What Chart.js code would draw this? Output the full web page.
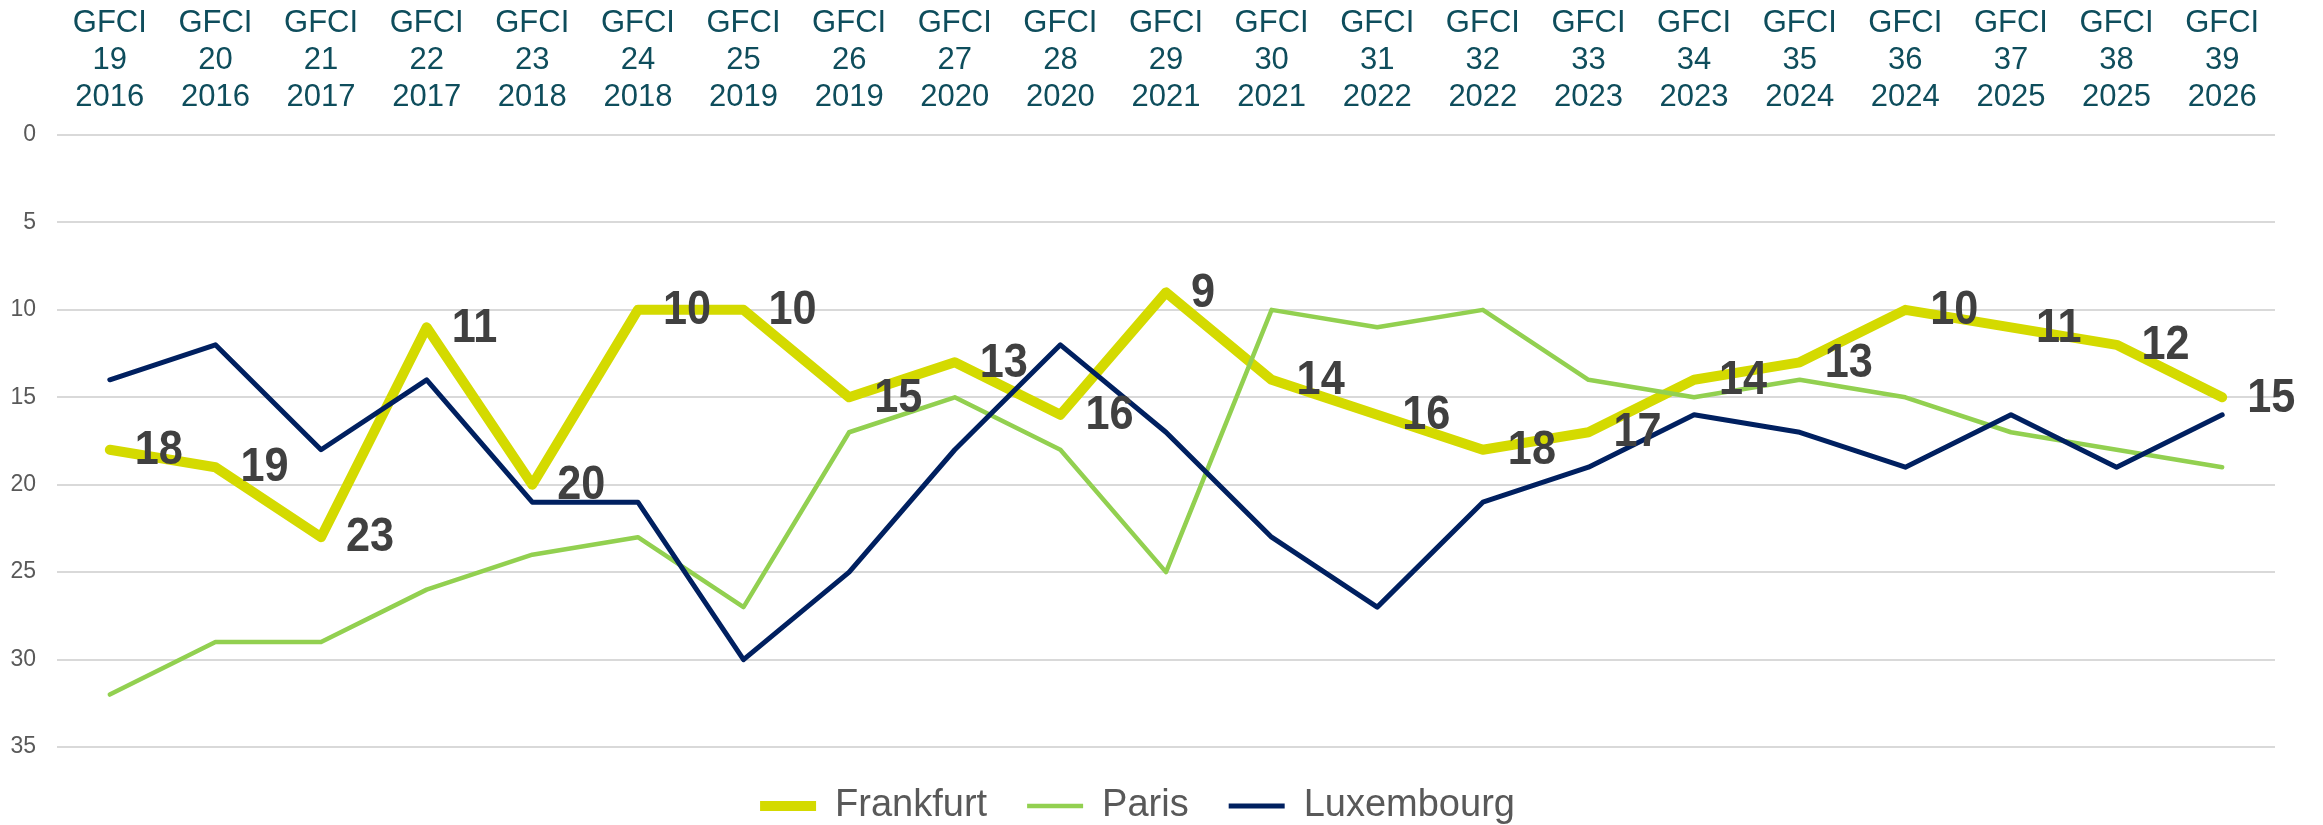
<!DOCTYPE html>
<html>
<head>
<meta charset="utf-8">
<script src="https://cdn.jsdelivr.net/npm/chart.js@4.4.1/dist/chart.umd.min.js"></script>
<style>
html,body{margin:0;padding:0;background:#ffffff;}
#wrap{width:2323px;height:825px;position:relative;}
</style>
</head>
<body>
<div id="wrap"><canvas id="c"></canvas></div>
<script>
const editions = ['19','20','21','22','23','24','25','26','27','28','29','30','31','32','33','34','35','36','37','38','39'];
const years = ['2016','2016','2017','2017','2018','2018','2019','2019','2020','2020','2021','2021','2022','2022','2023','2023','2024','2024','2025','2025','2026'];
const frankfurt  = [18,19,23,11,20,10,10,15,13,16, 9,14,16,18,17,14,13,10,11,12,15];
const paris      = [32,29,29,26,24,23,27,17,15,18,25,10,11,10,14,15,14,15,17,18,19];
const luxembourg = [14,12,18,14,21,21,30,25,18,12,17,23,27,21,19,16,17,19,16,19,16];
const seriesNames = ['Frankfurt','Paris','Luxembourg'];
const yMin = 0, yMax = 35, yStep = 5;

const categories = editions.map((e, i) => ['GFCI', e, years[i]]);
const FONT = "'Liberation Sans', Arial, sans-serif";

const valueLabels = {
  id: 'valueLabels',
  afterDraw(chart) {
    const meta = chart.getDatasetMeta(0);
    const ctx = chart.ctx;
    const sx = 0.9;
    ctx.save();
    ctx.font = 'bold 48px ' + FONT;
    ctx.fillStyle = '#404040';
    ctx.textAlign = 'left';
    ctx.textBaseline = 'middle';
    meta.data.forEach((pt, i) => {
      ctx.save();
      ctx.translate(pt.x + 25, pt.y + 1);
      ctx.scale(sx, 1);
      ctx.fillText(String(frankfurt[i]), 0, 0);
      ctx.restore();
    });
    ctx.restore();
  }
};

new Chart(document.getElementById('c'), {
  type: 'line',
  data: {
    labels: categories,
    datasets: [
      { label: seriesNames[0], data: frankfurt, borderColor: '#D4DA00', backgroundColor: '#D4DA00',
        borderWidth: 10, pointRadius: 0, tension: 0, borderCapStyle: 'round', borderJoinStyle: 'round', order: 3 },
      { label: seriesNames[1], data: paris, borderColor: '#92D050', backgroundColor: '#92D050',
        borderWidth: 4.5, pointRadius: 0, tension: 0, borderCapStyle: 'round', borderJoinStyle: 'round', order: 2 },
      { label: seriesNames[2], data: luxembourg, borderColor: '#002060', backgroundColor: '#002060',
        borderWidth: 5, pointRadius: 0, tension: 0, borderCapStyle: 'round', borderJoinStyle: 'round', order: 1 }
    ]
  },
  options: {
    responsive: true,
    maintainAspectRatio: false,
    animation: false,
    devicePixelRatio: 1,
    layout: { padding: { top: 0, right: 48, bottom: -10, left: 0 } },
    plugins: {
      tooltip: { enabled: false },
      legend: {
        position: 'bottom',
        labels: {
          usePointStyle: true,
          pointStyle: 'line',
          pointStyleWidth: 56,
          padding: 40,
          color: '#595959',
          font: { size: 38, family: FONT },
          sort: (a, b) => a.datasetIndex - b.datasetIndex
        }
      }
    },
    scales: {
      x: {
        position: 'top',
        offset: true,
        grid: { display: false, drawTicks: false },
        border: { display: false },
        ticks: { color: '#0E4D5C', font: { size: 31, family: FONT }, padding: 19, maxRotation: 0, autoSkip: false },
        afterFit: (s) => { s.height = 135; }
      },
      y: {
        reverse: true,
        min: yMin,
        max: yMax,
        grid: { color: '#D9D9D9', lineWidth: 2, drawTicks: false },
        border: { display: false },
        ticks: { stepSize: yStep, color: '#595959', font: { size: 23, family: FONT }, padding: 21 },
        afterFit: (s) => { s.width = 57; }
      }
    }
  },
  plugins: [valueLabels]
});
</script>
</body>
</html>
